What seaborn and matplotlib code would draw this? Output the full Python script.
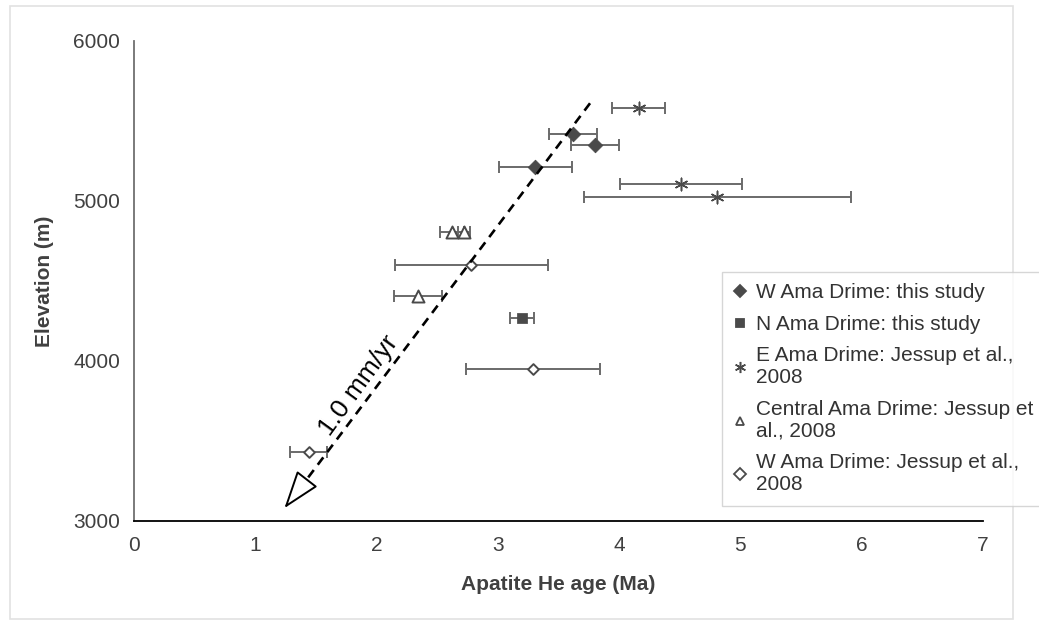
import matplotlib
matplotlib.use("Agg")
import matplotlib.pyplot as plt
import seaborn as sns
import pandas as pd
from matplotlib.lines import Line2D
from matplotlib.patches import Rectangle

# ---- data ----
w_this_age = [3.62, 3.80, 3.31]
w_this_elev = [5420, 5350, 5210]
w_this_err = [0.20, 0.20, 0.30]

n_this_age = [3.20]
n_this_elev = [4270]
n_this_err = [0.10]

e_jes_age = [4.16, 4.51, 4.81]
e_jes_elev = [5580, 5105, 5025]
e_jes_err = [0.22, 0.50, 1.10]

c_jes_age = [2.62, 2.72, 2.34]
c_jes_elev = [4805, 4805, 4405]
c_jes_err = [0.10, 0.05, 0.20]

wj_age = [2.78, 3.29, 1.44]
wj_elev = [4600, 3950, 3430]
wj_err = [0.63, 0.55, 0.15]

labels = ["W Ama Drime: this study",
          "N Ama Drime: this study",
          "E Ama Drime: Jessup et al.,\n2008",
          "Central Ama Drime: Jessup et\nal., 2008",
          "W Ama Drime: Jessup et al.,\n2008"]

trend_age = [3.76, 1.42]
trend_elev = [5611, 3256]
arrow_tip = (1.24, 3080)
rate_label = "1.0 mm/yr"

x_ticks = [0, 1, 2, 3, 4, 5, 6, 7]
y_ticks = [3000, 4000, 5000, 6000]

# ---- style ----
sns.set_style("white")
plt.rcParams['font.family'] = ['Liberation Sans', 'DejaVu Sans']

fig = plt.figure(figsize=(10.39, 6.27), dpi=100)
ax = fig.add_axes([134/1039, 1-521/627, (983-134)/1039, (521-41)/627])

fig.patches.append(Rectangle((10/1039, 8/627), (1013-10)/1039, (621-8)/627,
                             transform=fig.transFigure, fill=False,
                             edgecolor='#e2e2e2', lw=1.2, zorder=0))

ecol = '#6a6a6a'
mcol = '#4a4a4a'

series = [
    (w_this_age, w_this_elev, w_this_err, dict(marker='D', s=55, color=mcol, edgecolor=mcol)),
    (n_this_age, n_this_elev, n_this_err, dict(marker='s', s=45, color=mcol, edgecolor=mcol)),
    (e_jes_age, e_jes_elev, e_jes_err, dict(marker=(6, 2, 0), s=80, color=mcol, linewidth=1.1)),
    (c_jes_age, c_jes_elev, c_jes_err, dict(marker='^', s=75, color='white', edgecolor=mcol, linewidth=1.4)),
    (wj_age, wj_elev, wj_err, dict(marker='D', s=30, color='white', edgecolor=mcol, linewidth=1.4)),
]

handles = []
for (xa, ya, xe, kw), lab in zip(series, labels):
    ax.errorbar(xa, ya, xerr=xe, fmt='none', ecolor=ecol, elinewidth=1.4,
                capsize=4, capthick=1.4, zorder=2)
    df = pd.DataFrame({"age": xa, "elev": ya})
    sns.scatterplot(data=df, x="age", y="elev", ax=ax, zorder=3, legend=False, **kw)
    mk = kw['marker']
    if mk == (6, 2, 0):
        h = Line2D([], [], marker=mk, color=mcol, linestyle='none', markersize=8, markeredgewidth=1.1)
    else:
        h = Line2D([], [], marker=mk, linestyle='none', markersize=6,
                   markerfacecolor=kw['color'], markeredgecolor=kw.get('edgecolor', mcol),
                   markeredgewidth=1.3)
    handles.append(h)

# trend line with arrow
ax.plot(trend_age, trend_elev, color='black', lw=1.9, linestyle=(0, (3.5, 2.5)), zorder=4)
ax.annotate("", xy=arrow_tip, xytext=(trend_age[1], trend_elev[1]),
            arrowprops=dict(arrowstyle='-|>,head_length=1.6,head_width=0.55',
                            mutation_scale=15, facecolor='white', edgecolor='black',
                            lw=1.4, shrinkA=0, shrinkB=0), zorder=4)
ax.text(1.85, 3845, rate_label, rotation=54, ha='center', va='center',
        fontsize=19, color='black', rotation_mode='anchor')

ax.set_xlim(0, 7)
ax.set_ylim(3000, 6000)
ax.set_xticks(x_ticks)
ax.set_yticks(y_ticks)
ax.set_xlabel("Apatite He age (Ma)", fontsize=15, fontweight='bold', color='#404040', labelpad=14)
ax.set_ylabel("Elevation (m)", fontsize=15, fontweight='bold', color='#404040', labelpad=14)
ax.tick_params(axis='both', labelsize=15, labelcolor='#404040', direction='out',
               length=5, width=1, color='#606060', pad=5)
ax.tick_params(axis='x', pad=6)

for s in ['top', 'right']:
    ax.spines[s].set_visible(False)
ax.spines['left'].set_color('#707070')
ax.spines['left'].set_linewidth(1.3)
ax.spines['bottom'].set_color('black')
ax.spines['bottom'].set_linewidth(1.3)
ax.set_facecolor('white')

leg = fig.legend(handles, labels, loc='upper left',
                 bbox_to_anchor=(722/1039, 1-272/627), borderaxespad=0,
                 frameon=True, fontsize=15, handlelength=0.6, handletextpad=0.5,
                 labelspacing=0.6, borderpad=0.55, fancybox=False,
                 labelcolor='#333333', alignment='left')
leg.get_frame().set_edgecolor('#cccccc')
leg.get_frame().set_linewidth(1.0)

fig.savefig("out.png", dpi=100, facecolor='white')
